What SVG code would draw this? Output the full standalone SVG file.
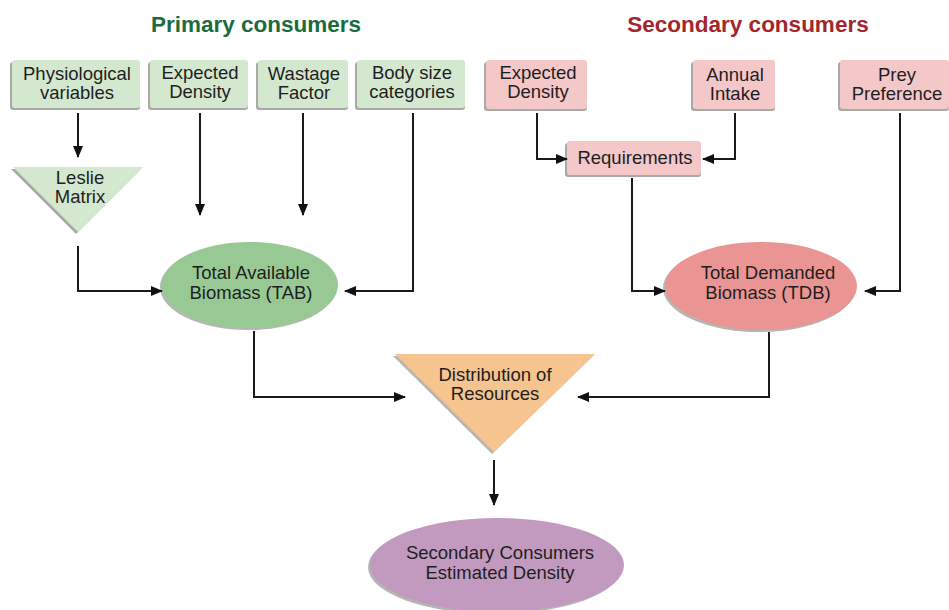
<svg xmlns="http://www.w3.org/2000/svg" width="949" height="610" viewBox="0 0 949 610">
<defs>
<marker id="ah" markerUnits="userSpaceOnUse" markerWidth="12" markerHeight="12" viewBox="0 0 12 12" refX="11" refY="6" orient="auto">
<path d="M0,1 L12,6 L0,11 Z" fill="#111"/>
</marker>
</defs>
<style>
text{font-family:"Liberation Sans",Arial,sans-serif;font-size:18.5px;fill:#1e1e1e;text-anchor:middle}
.title{font-size:22.5px;font-weight:bold}
.sh{fill:#a9aaa8}
.g{fill:#d4e8cf}
.p{fill:#f4c7c9}
.c{fill:none;stroke:#1a1a1a;stroke-width:2;marker-end:url(#ah)}
</style>
<rect width="949" height="610" fill="#fff"/>
<text class="title" x="256" y="32" style="fill:#1b6b3c">Primary consumers</text>
<text class="title" x="748" y="32" style="fill:#a2262b">Secondary consumers</text>

<g id="physio"><rect class="sh" x="10" y="62" width="130" height="48" rx="3"/><rect class="g" x="12" y="60" width="128" height="48" rx="3"/><text x="77" y="80">Physiological</text><text x="77" y="99">variables</text></g>
<g id="expdens1"><rect class="sh" x="148" y="62" width="100" height="48" rx="3"/><rect class="g" x="150" y="60" width="98" height="48" rx="3"/><text x="200" y="79">Expected</text><text x="200" y="98">Density</text></g>
<g id="wastage"><rect class="sh" x="256" y="62" width="92" height="48" rx="3"/><rect class="g" x="258" y="60" width="90" height="48" rx="3"/><text x="304" y="80">Wastage</text><text x="304" y="99">Factor</text></g>
<g id="bodysize"><rect class="sh" x="355" y="62" width="110" height="48" rx="3"/><rect class="g" x="357" y="60" width="108" height="48" rx="3"/><text x="412" y="79">Body size</text><text x="412" y="98">categories</text></g>
<g id="leslie"><polygon points="11,169 141,169 76,234" fill="#a9aaa8"/><polygon points="13,167 143,167 78,232" fill="#d4e8cf"/><text x="80" y="184">Leslie</text><text x="80" y="203">Matrix</text></g>
<g id="tab"><ellipse cx="248" cy="287" rx="88" ry="43" fill="#b5b7b3"/><ellipse cx="250" cy="285" rx="88" ry="43" fill="#98c994"/><text x="251" y="279">Total Available</text><text x="251" y="299">Biomass (TAB)</text></g>

<g id="expdens2"><rect class="sh" x="484" y="62" width="103" height="49" rx="3"/><rect class="p" x="486" y="60" width="101" height="49" rx="3"/><text x="538" y="79">Expected</text><text x="538" y="98">Density</text></g>
<g id="annual"><rect class="sh" x="691" y="62" width="84" height="49" rx="3"/><rect class="p" x="693" y="60" width="82" height="49" rx="3"/><text x="735" y="81">Annual</text><text x="735" y="100">Intake</text></g>
<g id="prey"><rect class="sh" x="838" y="62" width="111" height="49" rx="3"/><rect class="p" x="840" y="60" width="109" height="49" rx="3"/><text x="897" y="81">Prey</text><text x="897" y="100">Preference</text></g>
<g id="req"><rect class="sh" x="565" y="143" width="136" height="34" rx="3"/><rect class="p" x="567" y="141" width="134" height="34" rx="3"/><text x="635" y="164">Requirements</text></g>
<g id="tdb"><ellipse cx="759" cy="288" rx="96" ry="44" fill="#b5b7b3"/><ellipse cx="761" cy="286" rx="96" ry="44" fill="#ea9593"/><text x="768" y="279">Total Demanded</text><text x="768" y="299">Biomass (TDB)</text></g>

<g id="distrib"><polygon points="393,356 593,356 492,454" fill="#b5b7b3"/><polygon points="395,354 595,354 494,452" fill="#f5c48f"/><text x="495" y="381">Distribution of</text><text x="495" y="400">Resources</text></g>
<g id="final"><ellipse cx="495" cy="567" rx="127" ry="47" fill="#b5b7b3"/><ellipse cx="497" cy="565" rx="127" ry="47" fill="#c29ac0"/><text x="500" y="559">Secondary Consumers</text><text x="500" y="579">Estimated Density</text></g>

<g id="connectors">
<path class="c" d="M78,113 V157"/>
<path class="c" d="M200,113 V215"/>
<path class="c" d="M303,113 V215"/>
<path class="c" d="M413,113 V291 H345"/>
<path class="c" d="M78,246 V291 H162"/>
<path class="c" d="M537,113 V159 H567"/>
<path class="c" d="M735,113 V159 H703"/>
<path class="c" d="M632,178 V291 H665"/>
<path class="c" d="M900,113 V291 H865"/>
<path class="c" d="M254,331 V397 H405"/>
<path class="c" d="M769,332 V397 H578"/>
<path class="c" d="M494,460 V505"/>
</g>
</svg>
